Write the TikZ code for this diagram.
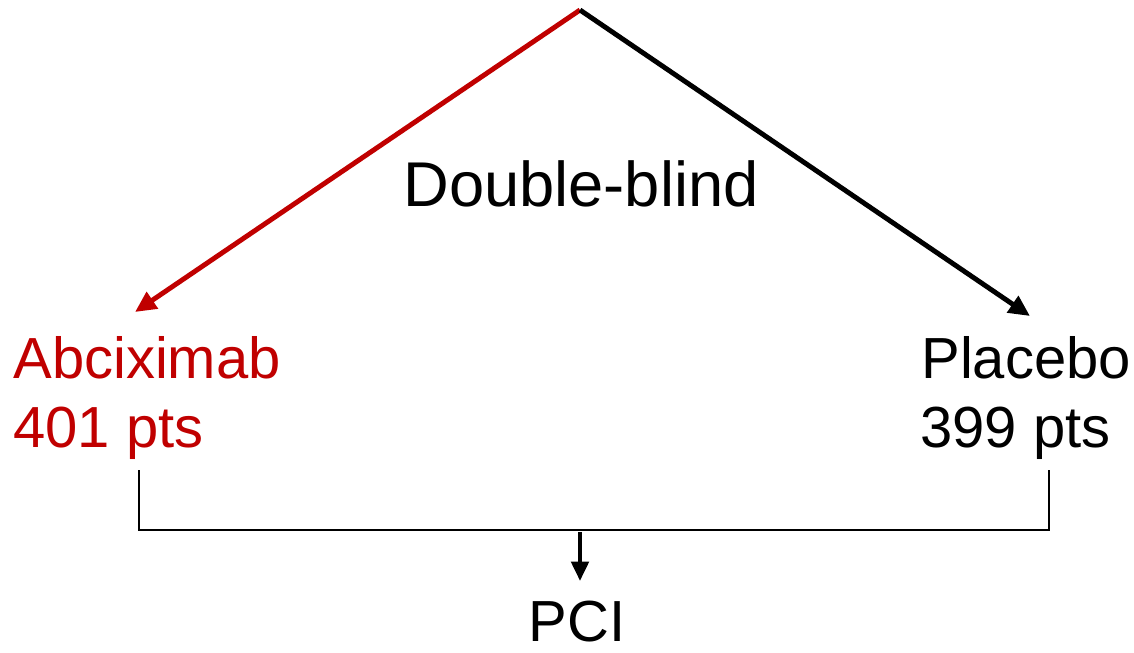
\documentclass[tikz,border=0pt]{standalone}
\usepackage{fontspec}
\setmainfont{Liberation Sans}
\usetikzlibrary{positioning,arrows.meta}
\definecolor{trialRed}{RGB}{192,0,0}

\begin{document}
\begin{tikzpicture}[
  x=0.02cm, y=-0.02cm,
  font=\fontsize{33}{40}\selectfont,
  arm/.style={line width=2.8pt, -{Triangle[length=12pt, width=11pt]}},
  drop/.style={line width=2.1pt, -{Triangle[length=11pt, width=10pt]}},
  brace/.style={line width=0.9pt},
  lbl/.style={anchor=base west, inner sep=0pt}
]
\useasboundingbox (0,0) rectangle (1134,653);

\def\xApex{580}
\def\yApex{10}
\def\yName{378}
\def\yPts{447}
\def\yFoot{470}
\def\yJoin{530}

% ------------------------
% Randomisation
% ------------------------
\coordinate (apex)   at (\xApex,\yApex);
\coordinate (abcTip) at (135,312);
\coordinate (plaTip) at (1030,316);

\node[anchor=base, inner sep=0pt, font=\fontsize{36}{42}\selectfont] (blind) at (581,206) {Double-blind};

\draw[arm, trialRed] (apex) -- (abcTip);
\draw[arm] (apex) -- (plaTip);

% Arms
\node[lbl, text=trialRed] (abcName) at (13,\yName) {Abciximab};
\node[lbl, text=trialRed] (abcPts)  at (13,\yPts)  {401 pts};
\node[lbl] (plaName) at (921,\yName) {Placebo};
\node[lbl] (plaPts)  at (920,\yPts)  {399 pts};

% ------------------------
% Both arms to PCI
% ------------------------
\coordinate (abcFoot) at (139,\yFoot);
\coordinate (plaFoot) at (1049,\yFoot);
\coordinate (joinMid) at (\xApex,\yJoin+2);

\node[anchor=base, inner sep=0pt] (pci) at (577,641) {PCI};

\draw[brace] (abcFoot) -- (139,\yJoin) -- (1049,\yJoin) -- (plaFoot);
\draw[drop, shorten >=11pt] (joinMid) -- (joinMid |- pci.north);

\end{tikzpicture}
\end{document}
